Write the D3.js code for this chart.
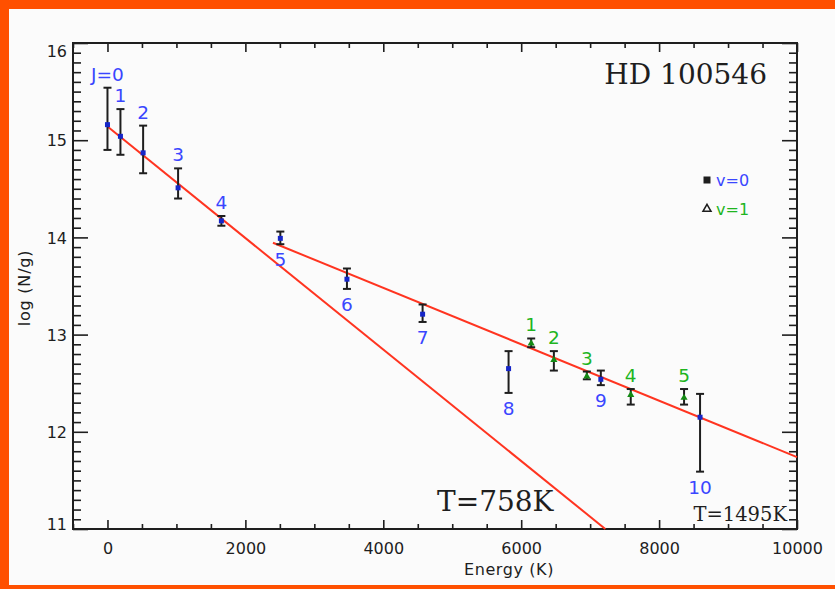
<!DOCTYPE html>
<html>
<head>
<meta charset="utf-8">
<script src="https://cdn.jsdelivr.net/npm/d3@7"></script>
<style>
  body { margin: 0; background: #fbfbfb; }
</style>
</head>
<body>
<div id="vis1"></div>
<script>
// v=0 levels (J = 0..10)
const energyV0 = [0, 188, 517, 1024, 1652, 2507, 3473, 4570, 5817, 7155, 8594];
const logNV0   = [15.16, 15.04, 14.87, 14.51, 14.17, 13.99, 13.57, 13.21, 12.65, 12.54, 12.15];
const hiV0     = [15.54, 15.32, 15.15, 14.71, 14.22, 14.06, 13.68, 13.31, 12.83, 12.63, 12.39];
const loV0     = [14.90, 14.85, 14.66, 14.40, 14.12, 13.93, 13.47, 13.13, 12.40, 12.48, 11.59];
const labelsV0 = ["J=0", "1", "2", "3", "4", "5", "6", "7", "8", "9", "10"];
const sideV0   = ["up", "up", "up", "up", "up", "down", "down", "down", "down", "down", "down"];

// v=1 levels
const energyV1 = [6145, 6474, 6952, 7589, 8362];
const logNV1   = [12.91, 12.74, 12.57, 12.38, 12.35];
const hiV1     = [12.96, 12.83, 12.62, 12.44, 12.44];
const loV1     = [12.87, 12.63, 12.54, 12.28, 12.28];
const labelsV1 = ["1", "2", "3", "4", "5"];

// fitted lines (end points)
const fitCold = [[0, 15.14], [7220, 11.0]];
const fitWarm = [[2400, 13.945], [10000, 11.74]];

const xTicks = [0, 2000, 4000, 6000, 8000, 10000];
const yTicks = [11, 12, 13, 14, 15, 16];

const WIDTH = 835;
const HEIGHT = 589;
const MARG = {left: 73, right: 38, top: 43, bottom: 60};
const VIS_WIDTH = WIDTH - MARG.left - MARG.right;
const VIS_HEIGHT = HEIGHT - MARG.top - MARG.bottom;

const BLUE = "#3a46ff";
const GREEN = "#1fb51f";
const RED = "#ff3420";
const INK = "#1e1e1e";
const SANS = "DejaVu Sans";
const SERIF = "DejaVu Serif";

const svg = d3.select("#vis1").append("svg")
    .attr("width", WIDTH)
    .attr("height", HEIGHT)
    .style("font-family", SANS);

svg.append("rect").attr("width", WIDTH).attr("height", HEIGHT).attr("fill", "#fbfbfb");
// orange frame of the slide
svg.append("rect").attr("x", 0).attr("y", 0).attr("width", WIDTH).attr("height", 9).attr("fill", "#ff5000");
svg.append("rect").attr("x", 0).attr("y", 0).attr("width", 9).attr("height", HEIGHT).attr("fill", "#ff5000");
svg.append("rect").attr("x", 0).attr("y", 585).attr("width", WIDTH).attr("height", 4).attr("fill", "#ff5000");

const X_SCALE = d3.scaleLinear().domain([-500, 10000]).range([0, VIS_WIDTH]);
const Y_SCALE = d3.scaleLinear().domain([11, 16]).range([VIS_HEIGHT, 0]);

const g = svg.append("g").attr("transform", "translate(" + MARG.left + "," + MARG.top + ")");

const xMinor = d3.range(-500, 10001, 500).filter(v => v % 2000 !== 0);
const yMinor = d3.range(110, 161).map(v => v / 10).filter(v => Math.abs(v - Math.round(v)) > 1e-6);

function styleAxis(sel) {
    sel.select(".domain").remove();
    sel.selectAll("line").attr("stroke", INK).attr("stroke-width", 1.6);
    sel.selectAll("text").attr("fill", INK).style("font-size", "16px").style("font-family", SANS);
}

// bottom
g.append("g").attr("transform", "translate(0," + VIS_HEIGHT + ")")
    .call(d3.axisBottom(X_SCALE).tickValues(xTicks).tickSizeInner(-9).tickSizeOuter(0).tickPadding(14).tickFormat(d3.format("d")))
    .call(styleAxis);
g.append("g").attr("transform", "translate(0," + VIS_HEIGHT + ")")
    .call(d3.axisBottom(X_SCALE).tickValues(xMinor).tickSizeInner(-5).tickSizeOuter(0).tickFormat(""))
    .call(styleAxis);
// top
g.append("g")
    .call(d3.axisTop(X_SCALE).tickValues(xTicks).tickSizeInner(-9).tickSizeOuter(0).tickFormat(""))
    .call(styleAxis);
g.append("g")
    .call(d3.axisTop(X_SCALE).tickValues(xMinor).tickSizeInner(-5).tickSizeOuter(0).tickFormat(""))
    .call(styleAxis);
// left
const yAxis = g.append("g")
    .call(d3.axisLeft(Y_SCALE).tickValues(yTicks).tickSizeInner(-15).tickSizeOuter(0).tickPadding(6).tickFormat(d3.format("d")))
    .call(styleAxis);
yAxis.selectAll(".tick text").attr("dy", d => d === 16 ? "0.85em" : (d === 11 ? "0" : "0.35em"));
g.append("g")
    .call(d3.axisLeft(Y_SCALE).tickValues(yMinor).tickSizeInner(-8).tickSizeOuter(0).tickFormat(""))
    .call(styleAxis);
// right
g.append("g").attr("transform", "translate(" + VIS_WIDTH + ",0)")
    .call(d3.axisRight(Y_SCALE).tickValues(yTicks).tickSizeInner(-15).tickSizeOuter(0).tickFormat(""))
    .call(styleAxis);
g.append("g").attr("transform", "translate(" + VIS_WIDTH + ",0)")
    .call(d3.axisRight(Y_SCALE).tickValues(yMinor).tickSizeInner(-8).tickSizeOuter(0).tickFormat(""))
    .call(styleAxis);

g.append("rect")
    .attr("width", VIS_WIDTH).attr("height", VIS_HEIGHT)
    .attr("fill", "none").attr("stroke", INK).attr("stroke-width", 2);

// axis titles
svg.append("text")
    .attr("x", MARG.left + VIS_WIDTH / 2 + 74).attr("y", 575)
    .attr("text-anchor", "middle").style("font-size", "16px").attr("letter-spacing", 0.6)
    .attr("fill", INK).text("Energy (K)");
svg.append("text")
    .attr("transform", "translate(30," + 288 + ") rotate(-90)")
    .attr("text-anchor", "middle").style("font-size", "16px").attr("letter-spacing", 0.8)
    .attr("fill", INK).text("log (N/g)");

// fit lines
const line = d3.line().x(d => X_SCALE(d[0])).y(d => Y_SCALE(d[1]));
[fitCold, fitWarm].forEach(f => {
    g.append("path").attr("d", line(f))
        .attr("fill", "none").attr("stroke", RED).attr("stroke-width", 2);
});

const v0 = energyV0.map((e, i) => ({e: e, y: logNV0[i], hi: hiV0[i], lo: loV0[i], lab: labelsV0[i], side: sideV0[i]}));
const v1 = energyV1.map((e, i) => ({e: e, y: logNV1[i], hi: hiV1[i], lo: loV1[i], lab: labelsV1[i], side: "up"}));

function errBars(data) {
    const eb = g.append("g").selectAll("g").data(data).enter().append("g")
        .attr("stroke", INK).attr("stroke-width", 2);
    eb.append("line")
        .attr("x1", d => X_SCALE(d.e)).attr("x2", d => X_SCALE(d.e))
        .attr("y1", d => Y_SCALE(d.hi)).attr("y2", d => Y_SCALE(d.lo));
    eb.append("line")
        .attr("x1", d => X_SCALE(d.e) - 4).attr("x2", d => X_SCALE(d.e) + 4)
        .attr("y1", d => Y_SCALE(d.hi)).attr("y2", d => Y_SCALE(d.hi));
    eb.append("line")
        .attr("x1", d => X_SCALE(d.e) - 4).attr("x2", d => X_SCALE(d.e) + 4)
        .attr("y1", d => Y_SCALE(d.lo)).attr("y2", d => Y_SCALE(d.lo));
}
errBars(v0);
errBars(v1);

g.selectAll(".sq").data(v0).enter().append("rect")
    .attr("class", "sq")
    .attr("x", d => X_SCALE(d.e) - 2.5).attr("y", d => Y_SCALE(d.y) - 2.5)
    .attr("width", 5).attr("height", 5)
    .attr("fill", "#1626c8");

const tri = d3.symbol().type(d3.symbolTriangle).size(22);
g.selectAll(".tri").data(v1).enter().append("path")
    .attr("class", "tri")
    .attr("transform", d => "translate(" + X_SCALE(d.e) + "," + Y_SCALE(d.y) + ")")
    .attr("d", tri)
    .attr("fill", "#148a14");

function levelLabels(data, color) {
    g.selectAll(null).data(data).enter().append("text")
        .attr("x", d => X_SCALE(d.e))
        .attr("y", d => d.side === "up" ? Y_SCALE(d.hi) - 7 : Y_SCALE(d.lo) + 22)
        .attr("text-anchor", "middle")
        .style("font-size", "18.5px")
        .attr("fill", color)
        .text(d => d.lab);
}
levelLabels(v0, BLUE);
levelLabels(v1, GREEN);

// legend
const legend = [{lab: "v=0", color: BLUE, sym: d3.symbolSquare}, {lab: "v=1", color: GREEN, sym: d3.symbolTriangle}];
legend.forEach((l, i) => {
    const ly = 181 + i * 29;
    svg.append("path")
        .attr("transform", "translate(707," + (ly - 1) + ")")
        .attr("d", d3.symbol().type(l.sym).size(i === 0 ? 30 : 28))
        .attr("fill", i === 0 ? INK : "none")
        .attr("stroke", INK).attr("stroke-width", 1.5);
    if (i === 0) {
        svg.append("path")
            .attr("transform", "translate(707," + (ly - 1) + ")")
            .attr("d", d3.symbol().type(d3.symbolTimes).size(40))
            .attr("fill", INK);
    }
    svg.append("text")
        .attr("x", 716).attr("y", ly + 5)
        .style("font-size", "16px").attr("fill", l.color)
        .text(l.lab);
});

// annotations
svg.append("text")
    .attr("x", 767).attr("y", 84).attr("text-anchor", "end")
    .style("font-family", SERIF).style("font-size", "28px").attr("fill", INK)
    .text("HD 100546");
svg.append("text")
    .attr("x", 437).attr("y", 511)
    .style("font-family", SERIF).style("font-size", "28px").attr("fill", INK)
    .text("T=758K");
svg.append("text")
    .attr("x", 787).attr("y", 521).attr("text-anchor", "end")
    .style("font-family", SERIF).style("font-size", "19.5px").attr("fill", INK)
    .text("T=1495K");
</script>
</body>
</html>
